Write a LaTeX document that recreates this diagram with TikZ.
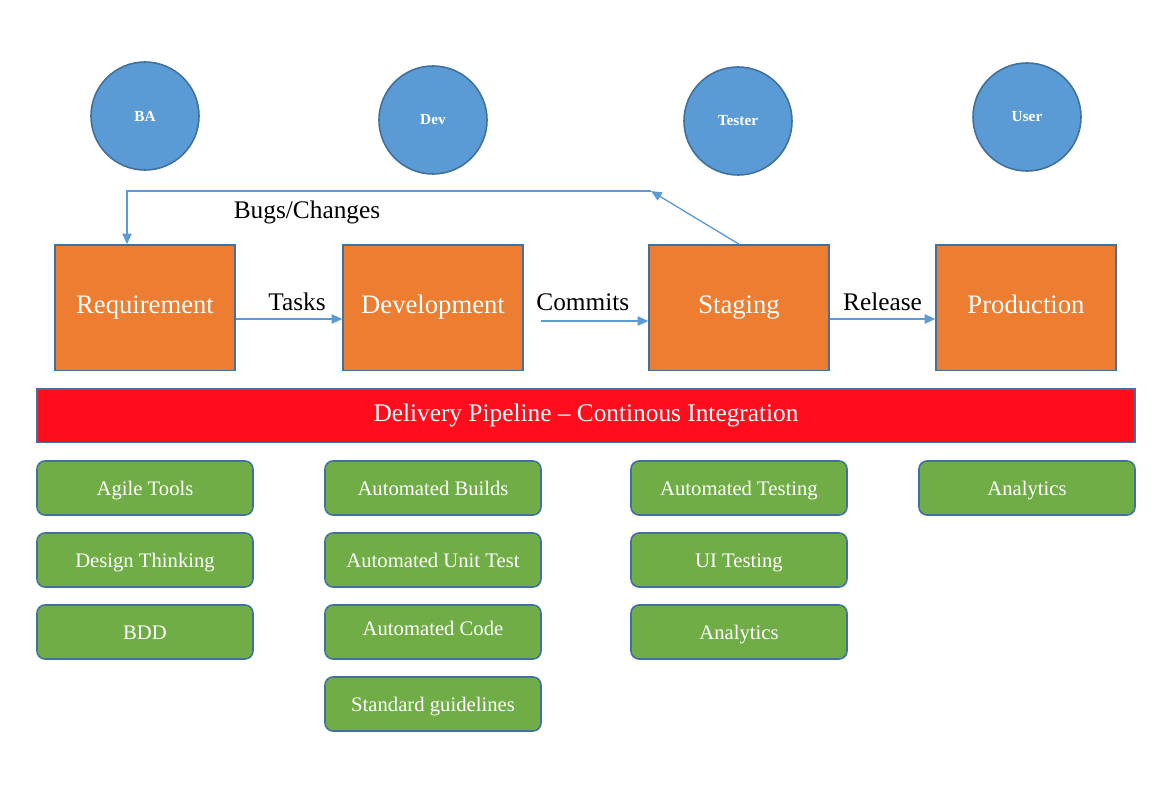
\documentclass[tikz,border=0pt]{standalone}
\usepackage{fontspec}
\setmainfont{Liberation Serif}
\usetikzlibrary{arrows.meta}
\definecolor{obox}{HTML}{ED7D31}
\definecolor{bord}{HTML}{41719C}
\definecolor{circ}{HTML}{5B9BD5}
\definecolor{gbox}{HTML}{70AD47}
\definecolor{rbar}{HTML}{FF0D1D}
\definecolor{arr}{HTML}{5B9BD5}
\begin{document}
\begin{tikzpicture}[x=0.75pt,y=-0.75pt,
  person/.style={circle,draw=bord,line width=1.2pt,fill=circ,minimum size=81pt,inner sep=0pt,text=white,font=\fontsize{11.5}{13}\selectfont\bfseries},
  stagebox/.style={rectangle,draw=bord,line width=1pt,fill=obox,minimum width=135pt,minimum height=94pt,inner sep=0pt,text=white,text height=13pt,text depth=4pt,font=\fontsize{20}{24}\selectfont},
  toolbox/.style={rectangle,rounded corners=6pt,draw=bord,line width=1.2pt,fill=gbox,minimum width=162pt,minimum height=40.5pt,inner sep=0pt,text=white,text height=13.5pt,text depth=3pt,font=\fontsize{15.5}{18}\selectfont},
  flow/.style={draw=arr,line width=1pt,-{Triangle[length=8pt,width=7pt]}},
  lbl/.style={font=\fontsize{19}{22}\selectfont,inner sep=0pt}]
\useasboundingbox (0,0) rectangle (1170,788);
% people
\node[person] (ba) at (145,116) {BA};
\node[person] (dev) at (433,120) {Dev};
\node[person] (tester) at (738,121) {Tester};
\node[person] (user) at (1027,117) {User};
% stages
\node[stagebox] (req) at (145,307.5) {Requirement};
\node[stagebox] (devel) at (433,307.5) {Development};
\node[stagebox] (stag) at (739,307.5) {Staging};
\node[stagebox] (prod) at (1026,307.5) {Production};
% pipeline
\node[rectangle,draw=bord,line width=1pt,fill=rbar,minimum width=823.5pt,minimum height=40pt,inner sep=0pt,text=white,text height=13pt,text depth=4pt,font=\fontsize{19}{22}\selectfont] (pipe) at (586,415.5) {Delivery Pipeline -- Continous Integration};
% tools
\node[toolbox] (t1) at (145,488) {Agile Tools};
\node[toolbox] (t2) at (145,560) {Design Thinking};
\node[toolbox] (t3) at (145,632) {BDD};
\node[toolbox] (t4) at (433,488) {Automated Builds};
\node[toolbox] (t5) at (433,560) {Automated Unit Test};
\node[toolbox] (t6) at (433,632) {};
\node[text=white,font=\fontsize{15.5}{18}\selectfont] at (t6.center) [yshift=3pt] {Automated Code};
\node[toolbox] (t7) at (433,704) {Standard guidelines};
\node[toolbox] (t8) at (739,488) {Automated Testing};
\node[toolbox] (t9) at (739,560) {UI Testing};
\node[toolbox] (t10) at (739,632) {Analytics};
\node[toolbox] (t11) at (1027,488) {Analytics};
% connectors
\coordinate (cstart) at (541,321);
\coordinate (bend) at (651,191);
\draw[flow] (req.east |- 0,319) -- (devel.west |- 0,319) node[lbl,midway,yshift=12.75pt,xshift=6pt] {Tasks};
\draw[flow] (cstart) -- (stag.west |- cstart) node[lbl,pos=0.39,yshift=14.25pt] {Commits};
\draw[flow] (stag.east |- 0,319) -- (prod.west |- 0,319) node[lbl,midway,yshift=12.75pt] {Release};
\draw[flow] (stag.north) -- (bend);
\draw[flow] (bend) -- (127,191) -- (req.north -| 127,0);
\node[lbl] (bugs) at (307,212) {Bugs/Changes};
\end{tikzpicture}
\end{document}
